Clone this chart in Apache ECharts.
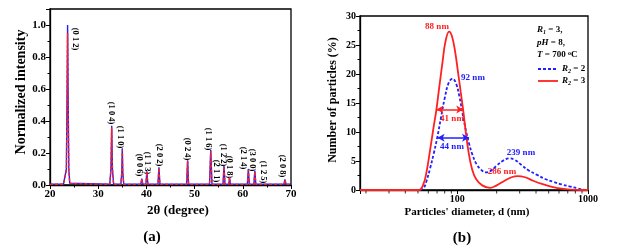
<!DOCTYPE html>
<html>
<head>
<meta charset="utf-8">
<script src="https://cdn.jsdelivr.net/npm/echarts@6/dist/echarts.min.js"></script>
<style>
  html, body { margin: 0; padding: 0; background: #fff; }
  #chart { width: 622px; height: 251px; }
</style>
</head>
<body>
<div id="chart"></div>
<script>
// (a) XRD pattern, [2theta, normalized intensity]
var xrdBlue = [
  [20, 0.005], [22.8, 0.006], [23.2, 0.012], [23.4, 0.1], [23.55, 0.6], [23.65, 1.0], [23.75, 0.6], [23.9, 0.1], [24.1, 0.012], [24.5, 0.006],
  [32.4, 0.005], [32.65, 0.1], [32.8, 0.37], [32.95, 0.1], [33.2, 0.005],
  [34.7, 0.005], [34.9, 0.08], [35.0, 0.23], [35.1, 0.08], [35.3, 0.005],
  [38.85, 0.005], [39.05, 0.04], [39.25, 0.005],
  [39.9, 0.005], [40.1, 0.085], [40.3, 0.005],
  [42.4, 0.005], [42.6, 0.11], [42.8, 0.005],
  [48.35, 0.005], [48.55, 0.155], [48.75, 0.005],
  [53.1, 0.005], [53.35, 0.22], [53.6, 0.005],
  [54.7, 0.005], [54.85, 0.012], [55.0, 0.005],
  [55.9, 0.005], [56.1, 0.12], [56.3, 0.005],
  [57.1, 0.005], [57.25, 0.05], [57.4, 0.005],
  [60.95, 0.005], [61.15, 0.1], [61.35, 0.005],
  [62.3, 0.005], [62.5, 0.09], [62.7, 0.005],
  [64.8, 0.005], [64.95, 0.008], [65.1, 0.005],
  [68.55, 0.005], [68.75, 0.035], [68.95, 0.005], [70, 0.005]
];
var xrdRed = [
  [20, 0.004], [22.8, 0.005], [23.2, 0.01], [23.4, 0.09], [23.55, 0.55], [23.65, 0.95], [23.75, 0.55], [23.9, 0.09], [24.1, 0.01], [24.5, 0.005],
  [32.4, 0.004], [32.65, 0.1], [32.8, 0.36], [32.95, 0.1], [33.2, 0.004],
  [34.7, 0.004], [34.9, 0.08], [35.0, 0.22], [35.1, 0.08], [35.3, 0.004],
  [38.85, 0.004], [39.05, 0.038], [39.25, 0.004],
  [39.9, 0.004], [40.1, 0.082], [40.3, 0.004],
  [42.4, 0.004], [42.6, 0.105], [42.8, 0.004],
  [48.35, 0.004], [48.55, 0.15], [48.75, 0.004],
  [53.1, 0.004], [53.35, 0.21], [53.6, 0.004],
  [54.7, 0.004], [54.85, 0.01], [55.0, 0.004],
  [55.9, 0.004], [56.1, 0.115], [56.3, 0.004],
  [57.1, 0.004], [57.25, 0.048], [57.4, 0.004],
  [60.95, 0.004], [61.15, 0.095], [61.35, 0.004],
  [62.3, 0.004], [62.5, 0.085], [62.7, 0.004],
  [64.8, 0.004], [64.95, 0.007], [65.1, 0.004],
  [68.55, 0.004], [68.75, 0.033], [68.95, 0.004], [70, 0.004]
];
// peak labels: [text, x px, y px]
var peakLabels = [
  ['(0 1 2)', 75, 39], ['(1 0 4)', 111, 113], ['(1 1 0)', 120, 137],
  ['(0 0 6)', 139, 165], ['(1 1 3)', 147, 163], ['(2 0 2)', 159, 155],
  ['(0 2 4)', 187, 149], ['(1 1 6)', 208, 139], ['(2 1 1)', 216, 171],
  ['(1 2 2)', 223, 155], ['(0 1 8)', 229, 167], ['(2 1 4)', 243, 158],
  ['(3 0 0)', 252, 160], ['(1 2 5)', 263, 172], ['(2 0 8)', 282, 166]
];

// (b) particle size distribution, [diameter nm, %]
var sizeR2 = [
  [18, 0], [30, 0], [45, 0], [50, 0], [55, 0.3], [58, 1.5], [62, 3.8], [66, 6.3], [70, 8.9],
  [75, 12.5], [80, 15.8], [86, 18.5], [92, 19.2], [98, 18.3], [104, 16], [110, 13],
  [117, 10], [123, 8], [130, 6.2], [140, 4.5], [152, 3.5], [165, 3.05], [180, 3.3],
  [200, 4.2], [225, 5.1], [249, 5.45], [275, 5.2], [310, 4.3], [350, 3.4], [408, 2.6],
  [470, 1.9], [543, 1.4], [630, 0.95], [730, 0.6], [830, 0.3], [900, 0.1], [1000, 0]
];
var sizeR3 = [
  [18, 0], [30, 0], [45, 0], [51, 0], [55, 1], [58, 3], [62, 7], [66, 11], [69, 13.7],
  [73, 18], [77, 22], [81, 25.5], [86.5, 27.3], [91, 26.5], [96, 24], [101, 20.5],
  [106, 17], [111, 13.7], [116, 10], [122, 6.5], [130, 3.5], [140, 1.8], [155, 0.8],
  [178, 0.35], [200, 0.8], [230, 1.6], [260, 2.2], [290, 2.4], [330, 2.2], [380, 1.6],
  [450, 1.0], [540, 0.5], [650, 0.2], [800, 0.02], [900, 0], [1000, 0]
];
var logMinorTicks = [20, 30, 40, 50, 60, 70, 80, 90, 200, 300, 400, 500, 600, 700, 800, 900];

var serif = '"Liberation Serif", "DejaVu Serif", serif';
var chart = echarts.init(document.getElementById('chart'));

function axisCommon(size) {
  return {
    axisLine: { lineStyle: { color: '#000', width: 1.3 } },
    axisTick: { length: 4, lineStyle: { color: '#000', width: 1 } },
    minorTick: { show: true, splitNumber: 2, length: 2.5, lineStyle: { color: '#000' } },
    splitLine: { show: false },
    axisLabel: { color: '#000', fontFamily: serif, fontWeight: 'bold', fontSize: size, margin: 4 }
  };
}

var graphics = [];
peakLabels.forEach(function (p) {
  graphics.push({
    type: 'text', x: p[1], y: p[2], rotation: -Math.PI / 2,
    style: { text: p[0], font: 'bold 8.5px ' + serif, fill: '#000', align: 'center', verticalAlign: 'middle' }
  });
});
function txt(t, x, y, size, color, rot) {
  graphics.push({
    type: 'text', x: x, y: y, rotation: rot || 0,
    style: { text: t, font: 'bold ' + size + 'px ' + serif, fill: color || '#000', align: 'center', verticalAlign: 'middle' }
  });
}
txt('Normalized intensity', 21, 92, 14, '#000', Math.PI / 2);
txt('2θ (degree)', 178, 211, 13);
txt('(a)', 152, 237, 15);
txt('Number of particles (%)', 333, 100, 12, '#000', Math.PI / 2);
txt("Particles' diameter, d (nm)", 467, 212, 11);
txt('(b)', 462, 238, 15);
txt('88 nm', 437, 27, 9, '#ff2020');
txt('92 nm', 473, 78, 9, '#2020ff');
txt('41 nm', 452, 119, 9, '#ff2020');
txt('44 nm', 452, 147, 9, '#2020ff');
txt('239 nm', 521, 153, 9, '#2020ff');
txt('286 nm', 502, 172, 9, '#ff2020');

var rich = {
  i: { fontFamily: serif, fontWeight: 'bold', fontStyle: 'italic', fontSize: 9, fill: '#000' },
  s: { fontFamily: serif, fontWeight: 'bold', fontStyle: 'italic', fontSize: 6, fill: '#000', verticalAlign: 'bottom', padding: [4, 0, 0, 0] },
  n: { fontFamily: serif, fontWeight: 'bold', fontSize: 9, fill: '#000' },
  u: { fontFamily: serif, fontWeight: 'bold', fontSize: 6, fill: '#000', padding: [0, 0, 4, 0] }
};
function legText(t, x, y) {
  graphics.push({ type: 'text', x: x, y: y, style: { text: t, rich: rich, align: 'left', verticalAlign: 'middle' } });
}
legText('{i|R}{s|1}{n| = 3,}', 537, 30);
legText('{i|pH}{n| = 8,}', 537, 43);
legText('{i|T}{n| = 700 }{u|o}{n|C}', 537, 55);
legText('{i|R}{s|2}{n| = 2}', 562, 69);
legText('{i|R}{s|2}{n| = 3}', 562, 81);
graphics.push({ type: 'line', shape: { x1: 538, y1: 69, x2: 558, y2: 69 }, style: { stroke: '#2020ff', lineWidth: 1.8, lineDash: [3, 2] } });
graphics.push({ type: 'line', shape: { x1: 538, y1: 81, x2: 558, y2: 81 }, style: { stroke: '#ff2020', lineWidth: 1.8 } });

var xa = axisCommon(11), ya = axisCommon(11), xb = axisCommon(10), yb = axisCommon(10);

chart.setOption({
  backgroundColor: '#fff',
  animation: false,
  grid: [
    { left: 50, top: 9, width: 241, height: 176, show: true, borderColor: '#000', borderWidth: 1.3 },
    { left: 360, top: 16, width: 228, height: 174, show: true, borderColor: '#000', borderWidth: 1.3 }
  ],
  xAxis: [
    Object.assign(xa, { gridIndex: 0, type: 'value', min: 20, max: 70, interval: 10 }),
    Object.assign(xb, {
      gridIndex: 1, type: 'log', logBase: 10, min: 18, max: 1000,
      minorTick: { show: false },
      axisLabel: Object.assign(xb.axisLabel, {
        formatter: function (v) { return (Math.abs(v - 100) < 1e-6 || Math.abs(v - 1000) < 1e-6) ? String(Math.round(v)) : ''; }
      })
    })
  ],
  yAxis: [
    Object.assign(ya, {
      gridIndex: 0, type: 'value', min: 0, max: 1.1, interval: 0.2,
      axisLabel: Object.assign(ya.axisLabel, { showMaxLabel: false, formatter: function (v) { return v.toFixed(1); } })
    }),
    Object.assign(yb, { gridIndex: 1, type: 'value', min: 0, max: 30, interval: 5 })
  ],
  graphic: graphics,
  series: [
    {
      type: 'line', xAxisIndex: 0, yAxisIndex: 0, data: xrdBlue, showSymbol: false, symbol: 'none',
      lineStyle: { color: '#2020ff', width: 1.4 }
    },
    {
      type: 'line', xAxisIndex: 0, yAxisIndex: 0, data: xrdRed, showSymbol: false, symbol: 'none',
      lineStyle: { color: '#ff2020', width: 1.4, type: [3, 2] }
    },
    {
      type: 'line', xAxisIndex: 1, yAxisIndex: 1, data: sizeR2, smooth: 0.4, symbol: 'none',
      lineStyle: { color: '#2020ff', width: 1.8, type: [3, 2] },
      markLine: {
        silent: true, symbol: ['arrow', 'arrow'], symbolSize: [6, 7],
        label: { show: false },
        lineStyle: { color: '#2020ff', width: 1.5, type: 'solid' },
        data: [[{ coord: [70.6, 9] }, { coord: [123, 9] }]]
      }
    },
    {
      type: 'line', xAxisIndex: 1, yAxisIndex: 1, data: sizeR3, smooth: 0.4, symbol: 'none',
      lineStyle: { color: '#ff2020', width: 1.8 },
      markLine: {
        silent: true, symbol: ['arrow', 'arrow'], symbolSize: [6, 7],
        label: { show: false },
        lineStyle: { color: '#ff2020', width: 1.5, type: 'solid' },
        data: [[{ coord: [69.3, 13.9] }, { coord: [111, 13.9] }]]
      }
    },
    {
      type: 'scatter', xAxisIndex: 1, yAxisIndex: 1, silent: true, clip: false,
      data: logMinorTicks.map(function (d) { return [d, 0]; }),
      symbol: 'rect', symbolSize: [1, 3], symbolOffset: [0, 2], itemStyle: { color: '#000' }
    }
  ]
});
</script>
</body>
</html>
